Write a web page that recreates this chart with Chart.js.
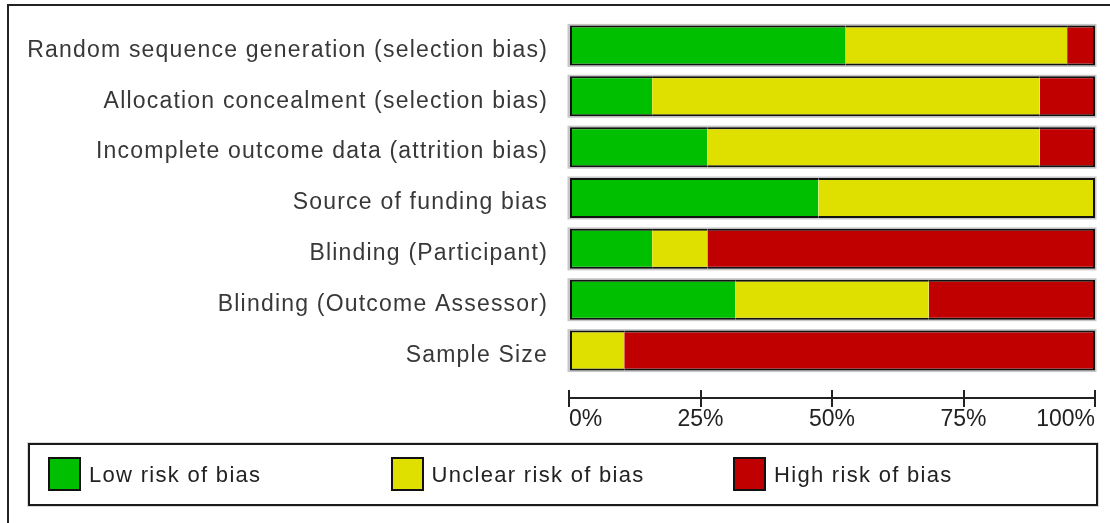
<!DOCTYPE html>
<html>
<head>
<meta charset="utf-8">
<script src="https://cdn.jsdelivr.net/npm/chart.js@4/dist/chart.umd.min.js"></script>
<style>
  html, body { margin: 0; padding: 0; background: #fff; }
  #wrap { position: relative; width: 1110px; height: 523px; overflow: hidden; background: #fff; }
  #frame { position: absolute; left: 7px; top: 4px; width: 1200px; height: 600px;
           border-top: 2px solid #222; border-left: 2px solid #222; }
  #c { position: absolute; left: 0; top: 0; }
  #legend { position: absolute; left: 28px; top: 443px; width: 1070px; height: 63px;
            box-sizing: border-box; border: 2px solid #1a1a1a; background: #fff;
            box-shadow: 0 0 0 1px rgba(0,0,0,0.15); }
  .item { position: absolute; top: 0; height: 59px; }
  .sw { position: absolute; top: 12px; left: 0; width: 33px; height: 34px; box-sizing: border-box;
        border: 2px solid #111; }
  .tx { position: absolute; left: 41px; top: 0; height: 59px; line-height: 59px; white-space: nowrap;
        font-family: "Liberation Sans", Arial, sans-serif; font-size: 22px; letter-spacing: 1.3px; color: #222; }
</style>
</head>
<body>
<div id="wrap">
  <div id="frame"></div>
  <canvas id="c" width="1110" height="523"></canvas>
  <div id="legend"></div>
</div>
<script>
const categories = [
  'Random sequence generation (selection bias)',
  'Allocation concealment (selection bias)',
  'Incomplete outcome data (attrition bias)',
  'Source of funding bias',
  'Blinding (Participant)',
  'Blinding (Outcome Assessor)',
  'Sample Size'
];
const lowRisk     = [52.6, 15.8, 26.3, 47.4, 15.8, 31.6, 0];
const unclearRisk = [42.1, 73.7, 63.2, 52.6, 10.5, 36.8, 10.5];
const highRisk    = [5.3, 10.5, 10.5, 0, 73.7, 31.6, 89.5];
const seriesNames  = ['Low risk of bias', 'Unclear risk of bias', 'High risk of bias'];
const seriesColors = ['#00BF00', '#E0E000', '#C00000'];
const xTickValues  = [0, 25, 50, 75, 100];
const xTickLabels  = ['0%', '25%', '50%', '75%', '100%'];

const FONT = '"Liberation Sans", Arial, sans-serif';

function segBorder(ctx) {
  const i = ctx.dataIndex, d = ctx.datasetIndex;
  if (i === undefined || d === undefined) return 2;
  const vals = ctx.chart.data.datasets.map(s => s.data[i]);
  let first = -1, last = -1;
  vals.forEach((v, k) => { if (v > 0) { if (first < 0) first = k; last = k; } });
  return { top: 2, bottom: 2, left: d === first ? 2 : 0, right: d === last ? 2 : 0 };
}

const haloPlugin = {
  id: 'halo',
  beforeDraw(chart) { chart.ctx.letterSpacing = '0px'; },
  beforeDatasetsDraw(chart) {
    const ctx = chart.ctx;
    const xs = chart.scales.x;
    const x0 = xs.getPixelForValue(xTickValues[0]);
    const x1 = xs.getPixelForValue(xTickValues[xTickValues.length - 1]);
    const meta = chart.getDatasetMeta(0);
    ctx.save();
    ctx.strokeStyle = 'rgba(0,0,0,0.22)';
    ctx.lineWidth = 3;
    meta.data.forEach(el => {
      const p = el.getProps(['y', 'height'], true);
      ctx.strokeRect(x0, p.y - p.height / 2, x1 - x0, p.height);
    });
    ctx.restore();
  },
  afterDatasetsDraw(chart) { chart.ctx.letterSpacing = '1.2px'; },
  afterDraw(chart) { chart.ctx.letterSpacing = '0px'; }
};

const datasets = [lowRisk, unclearRisk, highRisk].map((arr, k) => ({
  label: seriesNames[k],
  data: arr,
  backgroundColor: seriesColors[k],
  borderColor: '#111',
  borderWidth: segBorder,
  borderSkipped: false,
  xAxisID: 'x',
  yAxisID: 'y',
  barPercentage: 0.787,
  categoryPercentage: 1
}));

new Chart(document.getElementById('c'), {
  type: 'bar',
  data: { labels: categories, datasets },
  plugins: [haloPlugin],
  options: {
    indexAxis: 'y',
    responsive: false,
    animation: false,
    events: [],
    layout: { padding: { top: 20, right: 15, bottom: 85, left: 0 } },
    plugins: { legend: { display: false }, tooltip: { enabled: false } },
    scales: {
      y: {
        type: 'category',
        stacked: true,
        grid: { display: false, drawTicks: false },
        border: { display: false },
        ticks: { color: '#383838', font: { family: FONT, size: 23 }, padding: 21, labelOffset: 5, z: 1 },
        afterFit(s) { s.width = 569; s.paddingTop = 0; s.paddingBottom = 0; }
      },
      x: {
        axis: 'x',
        type: 'linear',
        position: 'bottom',
        weight: 0,
        stacked: true,
        min: 0, max: 100,
        afterBuildTicks(s) { s.ticks = xTickValues.map(v => ({ value: v })); },
        ticks: { display: false },
        grid: { display: true, drawOnChartArea: false, drawTicks: true, tickLength: 31,
                color: '#222', lineWidth: 2, tickBorderDash: [0, 14, 17, 100] },
        border: { display: false },
        afterFit(s) { s.height = 22; }
      },
      x2: {
        axis: 'x',
        type: 'linear',
        position: 'bottom',
        weight: 1,
        min: 0, max: 100,
        afterBuildTicks(s) { s.ticks = xTickValues.map(v => ({ value: v })); },
        ticks: {
          align: 'inner', padding: 8, color: '#222', font: { family: FONT, size: 23 },
          maxRotation: 0, autoSkip: false,
          callback(v) { const i = xTickValues.indexOf(v); return i >= 0 ? xTickLabels[i] : ''; }
        },
        grid: { display: true, drawOnChartArea: false, drawTicks: false, color: '#222', lineWidth: 2 },
        border: { display: true, color: '#222', width: 2 },
        afterFit(s) { s.height = 40; }
      }
    }
  }
});

// Legend built from the dataset names and colours
const legend = document.getElementById('legend');
seriesNames.forEach((name, k) => {
  const it = document.createElement('div');
  it.className = 'item';
  it.style.left = (18 + k * 342.5) + 'px';
  const sw = document.createElement('div');
  sw.className = 'sw';
  sw.style.background = seriesColors[k];
  const tx = document.createElement('div');
  tx.className = 'tx';
  tx.textContent = name;
  it.appendChild(sw); it.appendChild(tx);
  legend.appendChild(it);
});
</script>
</body>
</html>
